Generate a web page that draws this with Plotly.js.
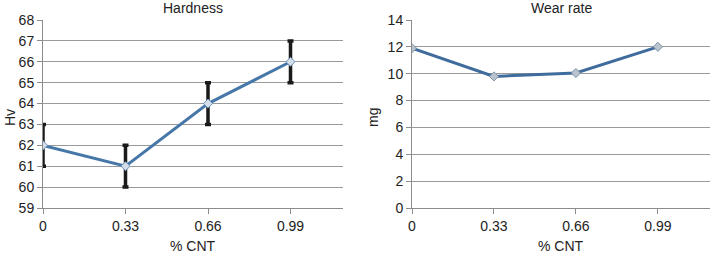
<!DOCTYPE html>
<html><head><meta charset="utf-8">
<script src="https://cdn.plot.ly/plotly-3.0.1.min.js"></script>
<style>html,body{margin:0;padding:0;background:#fff}#chart{width:712px;height:256px}</style>
</head><body><div id="chart"></div>
<script>
const cnt = [0, 0.33, 0.66, 0.99];
const cntTicks = ['0', '0.33', '0.66', '0.99'];
const hardness = [62, 61, 64, 66];
const hardnessErr = [1, 1, 1, 1];
const wearRate = [11.9, 9.8, 10.05, 12.0];

const lineBlue = '#4677a8';
const font = {family: 'Liberation Sans, Arial, sans-serif', size: 14, color: '#222'};

const traces = [
  {x: cnt, y: hardness, type: 'scatter', mode: 'lines+markers', xaxis: 'x', yaxis: 'y',
   line: {color: lineBlue, width: 3},
   marker: {symbol: 'diamond', size: 7, color: '#d3deea', line: {color: '#6d93bb', width: 1}},
   error_y: {type: 'data', array: hardnessErr, visible: true, color: '#1a1a1a', thickness: 3.5, width: 3}},
  {x: cnt, y: wearRate, type: 'scatter', mode: 'lines+markers', xaxis: 'x2', yaxis: 'y2',
   line: {color: '#3f6c9c', width: 3},
   marker: {symbol: 'diamond', size: 7, color: '#b9c4cf', line: {color: '#7f93a8', width: 1}}}
];

const axX = {range: [0, 1.2], tickvals: cnt, ticktext: cntTicks, showgrid: false, zeroline: false,
  showline: true, linecolor: '#8c8c8c', linewidth: 1, ticks: 'outside', ticklen: 5, tickcolor: '#8c8c8c',
  tickfont: font, fixedrange: true};
const axY = {showgrid: true, gridcolor: '#9a9a9a', gridwidth: 1, zeroline: false,
  showline: true, linecolor: '#8c8c8c', linewidth: 1, ticks: 'outside', ticklen: 5, tickcolor: '#8c8c8c',
  tickfont: font, fixedrange: true};

const layout = {
  width: 712, height: 256,
  margin: {l: 0, r: 0, t: 20, b: 48},
  paper_bgcolor: '#fff', plot_bgcolor: '#fff',
  showlegend: false, font: font,
  xaxis: Object.assign({}, axX, {domain: [43/712, 343/712], anchor: 'y'}),
  yaxis: Object.assign({}, axY, {range: [59, 68], dtick: 1, anchor: 'x'}),
  xaxis2: Object.assign({}, axX, {domain: [412/712, 710/712], anchor: 'y2'}),
  yaxis2: Object.assign({}, axY, {range: [0, 14], dtick: 2, anchor: 'x2'}),
  annotations: [
    {text: 'Hardness', xref: 'paper', yref: 'paper', x: 193/712, y: 1 + 12/188, showarrow: false, xanchor: 'center', yanchor: 'middle', font: font},
    {text: 'Wear rate', xref: 'paper', yref: 'paper', x: 561/712, y: 1 + 12/188, showarrow: false, xanchor: 'center', yanchor: 'middle', font: font},
    {text: '% CNT', xref: 'paper', yref: 'paper', x: 193/712, y: 1 - 226/188, showarrow: false, xanchor: 'center', yanchor: 'middle', font: font},
    {text: '% CNT', xref: 'paper', yref: 'paper', x: 561/712, y: 1 - 226/188, showarrow: false, xanchor: 'center', yanchor: 'middle', font: font},
    {text: 'Hv', xref: 'paper', yref: 'paper', x: 10/712, y: 1 - 98/188, showarrow: false, textangle: -90, xanchor: 'center', yanchor: 'middle', font: font},
    {text: 'mg', xref: 'paper', yref: 'paper', x: 373/712, y: 1 - 98/188, showarrow: false, textangle: -90, xanchor: 'center', yanchor: 'middle', font: font}
  ]
};

Plotly.newPlot('chart', traces, layout, {displayModeBar: false, staticPlot: true});
</script></body></html>
